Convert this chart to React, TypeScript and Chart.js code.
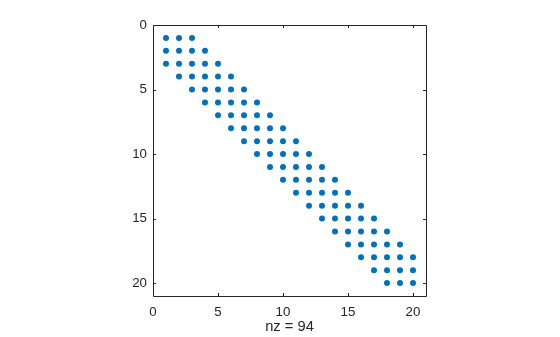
import React, { useEffect, useRef } from "react";
import { Chart, registerables } from "chart.js";

Chart.register(...registerables);

// Sparsity pattern: row index with first and last nonzero column
const rows = [1, 2, 3, 4, 5, 6, 7, 8, 9, 10, 11, 12, 13, 14, 15, 16, 17, 18, 19, 20];
const colStart = [1, 1, 1, 2, 3, 4, 5, 6, 7, 8, 9, 10, 11, 12, 13, 14, 15, 16, 17, 18];
const colEnd = [3, 4, 5, 6, 7, 8, 9, 10, 11, 12, 13, 14, 15, 16, 17, 18, 19, 20, 20, 20];
const tickValues = [0, 5, 10, 15, 20];
const xLabel = "nz = 94";

const INK = "#262626";
const DOT = "#0072BD";
const FONT = "'Liberation Sans', Arial, sans-serif";

const boxTicks = {
  id: "boxTicks",
  afterDatasetsDraw(chart: any) {
    const { ctx, chartArea: a, scales } = chart;
    const xs = scales.x;
    const ys = scales.y;
    ctx.save();
    ctx.strokeStyle = INK;
    ctx.lineWidth = 1;
    ctx.beginPath();
    ctx.rect(Math.round(a.left) + 0.5, Math.round(a.top) + 0.5, Math.round(a.right - a.left), Math.round(a.bottom - a.top));
    ctx.stroke();
    const tl = 3;
    ctx.beginPath();
    for (const v of tickValues) {
      const px = Math.round(xs.getPixelForValue(v)) + 0.5;
      ctx.moveTo(px, a.bottom);
      ctx.lineTo(px, a.bottom - tl);
      ctx.moveTo(px, a.top);
      ctx.lineTo(px, a.top + tl);
      const py = Math.round(ys.getPixelForValue(v)) + 0.5;
      ctx.moveTo(a.left, py);
      ctx.lineTo(a.left + tl, py);
      ctx.moveTo(a.right, py);
      ctx.lineTo(a.right - tl, py);
    }
    ctx.stroke();
    ctx.restore();
  },
};

export default function App() {
  const ref = useRef<HTMLCanvasElement>(null);
  useEffect(() => {
    if (!ref.current) return;
    const pts: { x: number; y: number }[] = [];
    rows.forEach((r, i) => {
      for (let c = colStart[i]; c <= colEnd[i]; c++) pts.push({ x: c, y: r });
    });
    const chart = new Chart(ref.current, {
      type: "scatter",
      data: {
        datasets: [
          {
            data: pts,
            backgroundColor: DOT,
            borderColor: DOT,
            pointRadius: 3,
            pointBorderWidth: 0,
          },
        ],
      },
      options: {
        animation: false,
        responsive: false,
        maintainAspectRatio: false,
        events: [],
        layout: { padding: { left: 0, right: 134, top: 25, bottom: 0 } },
        plugins: { legend: { display: false }, tooltip: { enabled: false } },
        scales: {
          x: {
            type: "linear",
            min: 0,
            max: 21,
            grid: { display: false, drawTicks: false },
            border: { display: false },
            afterBuildTicks: (s: any) => {
              s.ticks = tickValues.map((v) => ({ value: v }));
            },
            afterFit: (s: any) => {
              s.height = 41;
            },
            ticks: {
              padding: 8,
              color: INK,
              font: { family: FONT, size: 13.3 },
              maxRotation: 0,
            },
            title: {
              display: true,
              text: xLabel,
              color: INK,
              font: { family: FONT, size: 14.7 },
              padding: { top: 0, bottom: 1 },
            },
          },
          y: {
            type: "linear",
            min: 0,
            max: 21,
            reverse: true,
            grid: { display: false, drawTicks: false },
            border: { display: false },
            afterBuildTicks: (s: any) => {
              s.ticks = tickValues.map((v) => ({ value: v }));
            },
            afterFit: (s: any) => {
              s.width = 153;
            },
            ticks: {
              padding: 6,
              color: INK,
              font: { family: FONT, size: 13.3 },
            },
          },
        },
      },
      plugins: [boxTicks],
    });
    return () => chart.destroy();
  }, []);
  return (
    <div style={{ position: "fixed", left: 0, top: 0, width: 560, height: 337, background: "#fff" }}>
      <canvas ref={ref} width={560} height={337} style={{ display: "block" }} />
    </div>
  );
}
